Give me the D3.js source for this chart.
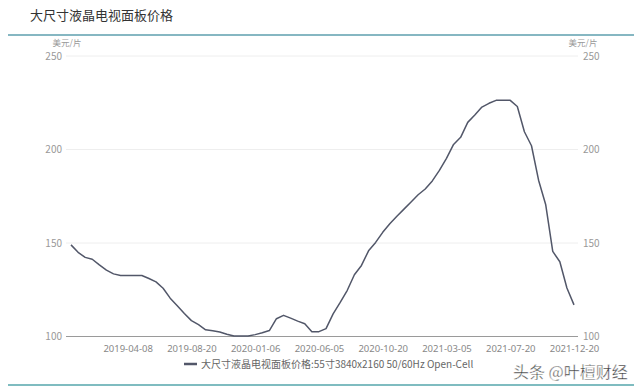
<!DOCTYPE html>
<html><head><meta charset="utf-8">
<script src="https://cdn.jsdelivr.net/npm/d3@7/dist/d3.min.js"></script>
<style>
html,body{margin:0;padding:0;background:#fff;}
svg{display:block;font-family:"Noto Sans CJK SC","Noto Sans",sans-serif;}
</style></head>
<body>
<svg id="c" width="640" height="389"></svg>
<script>
const titleText = "大尺寸液晶电视面板价格";
const unitLabel = "美元/片";
const seriesName = "大尺寸液晶电视面板价格:55寸3840x2160 50/60Hz Open-Cell";
const watermark = "头条 @叶檀财经";

const dates = [
  "2018-11-20","2018-12-05","2018-12-20","2019-01-07","2019-01-21","2019-02-20","2019-03-05","2019-03-20",
  "2019-04-08","2019-04-20","2019-05-05","2019-05-20","2019-06-05","2019-06-20","2019-07-05","2019-07-20","2019-08-05",
  "2019-08-20","2019-09-05","2019-09-20","2019-10-08","2019-10-20","2019-11-05","2019-11-20","2019-12-05","2019-12-20",
  "2020-01-06","2020-01-20","2020-02-20","2020-03-05","2020-03-20","2020-04-05","2020-04-20","2020-05-05","2020-05-20",
  "2020-06-05","2020-06-20","2020-07-05","2020-07-20","2020-08-05","2020-08-20","2020-09-05","2020-09-20","2020-10-08",
  "2020-10-20","2020-11-05","2020-11-20","2020-12-05","2020-12-20","2021-01-05","2021-01-20","2021-02-05","2021-02-20",
  "2021-03-05","2021-03-20","2021-04-06","2021-04-20","2021-05-05","2021-05-20","2021-06-07","2021-06-21","2021-07-05",
  "2021-07-20","2021-08-05","2021-08-20","2021-09-06","2021-09-22","2021-10-08","2021-10-20","2021-11-05","2021-11-22",
  "2021-12-20"
];
const prices = [
  149,145,142.3,141.3,138.3,135.5,133.5,132.6,
  132.6,132.6,132.6,131,129.2,125.8,120.5,116.5,112.3,
  108.5,106.3,103.6,103.1,102.4,101.2,100.3,100.3,100.3,
  101,102,103.2,109.5,111.3,109.8,108.2,106.8,102.6,
  102.6,104.2,112.1,118.2,124.7,133,138,145.8,150.3,
  155.7,160.3,164.3,168.1,171.9,175.8,178.9,183.2,188.8,
  195.3,202.7,206.5,214.5,218.4,222.7,224.7,226.3,226.3,
  226.3,223,209.5,202,183.6,170.6,145.5,140,125.9,
  116.9
];
const xTickLabels = ["2019-04-08","2019-08-20","2020-01-06","2020-06-05","2020-10-20","2021-03-05","2021-07-20","2021-12-20"];
const yTicks = [100,150,200,250];

const svg = d3.select("#c");
const x = d3.scalePoint().domain(dates).range([71, 574]);
const y = d3.scaleLinear().domain([100, 250]).range([336.5, 56]);
const gridX0 = 66, gridX1 = 578;

// title and rules
svg.append("text").attr("x", 30).attr("y", 20).attr("font-size", 13).attr("fill", "#333").text(titleText);
svg.append("line").attr("x1", 8).attr("x2", 634).attr("y1", 35).attr("y2", 35)
  .attr("stroke", "#5e9fae").attr("stroke-width", 1.5);
svg.append("line").attr("x1", 8).attr("x2", 634).attr("y1", 385).attr("y2", 385)
  .attr("stroke", "#7fbcc0").attr("stroke-width", 2);

// grid
svg.append("g").selectAll("line").data(yTicks.filter(d => d > 100)).join("line")
  .attr("x1", gridX0).attr("x2", gridX1).attr("y1", d => y(d)).attr("y2", d => y(d))
  .attr("stroke", "#eeeeee").attr("stroke-width", 1);
svg.append("line").attr("x1", gridX0).attr("x2", gridX1).attr("y1", y(100)).attr("y2", y(100))
  .attr("stroke", "#9a9a9a").attr("stroke-width", 1);

// y labels
const lab = svg.append("g").attr("font-size", 10).attr("fill", "#999");
lab.selectAll("text.l").data(yTicks).join("text").attr("class", "l")
  .attr("x", 62).attr("y", d => y(d) + 3.5).attr("text-anchor", "end").text(d => d);
lab.selectAll("text.r").data(yTicks).join("text").attr("class", "r")
  .attr("x", 583).attr("y", d => y(d) + (d === 100 ? 3 : 3.5)).attr("text-anchor", "start").text(d => d);
svg.append("text").attr("x", 67).attr("y", 45.5).attr("font-size", 8.5).attr("fill", "#999")
  .attr("text-anchor", "middle").text(unitLabel);
svg.append("text").attr("x", 583).attr("y", 45.5).attr("font-size", 8.5).attr("fill", "#999")
  .attr("text-anchor", "middle").text(unitLabel);

// x axis
const xAxis = d3.axisBottom(x).tickValues(xTickLabels).tickSize(0).tickPadding(9);
const gx = svg.append("g").attr("transform", `translate(0,${y(100)})`).call(xAxis);
gx.select(".domain").remove();
gx.selectAll("text").attr("font-size", 9.5).attr("fill", "#888")
  .attr("font-family", "'Noto Sans','Noto Sans CJK SC',sans-serif");

// line
const line = d3.line().x((d, i) => x(dates[i])).y(d => y(d));
svg.append("path").datum(prices).attr("d", line)
  .attr("fill", "none").attr("stroke", "#525769").attr("stroke-width", 1.5)
  .attr("stroke-linejoin", "round");

// legend
svg.append("line").attr("x1", 184).attr("x2", 197).attr("y1", 364).attr("y2", 364)
  .attr("stroke", "#525769").attr("stroke-width", 2.5);
svg.append("text").attr("x", 201).attr("y", 368).attr("font-size", 10).attr("fill", "#666").text(seriesName);

// watermark
svg.append("text").attr("x", 513).attr("y", 378).attr("font-size", 16).attr("fill", "#3a3a3a")
  .attr("stroke", "#fff").attr("stroke-width", 0.4).text(watermark);
</script>
</body></html>
